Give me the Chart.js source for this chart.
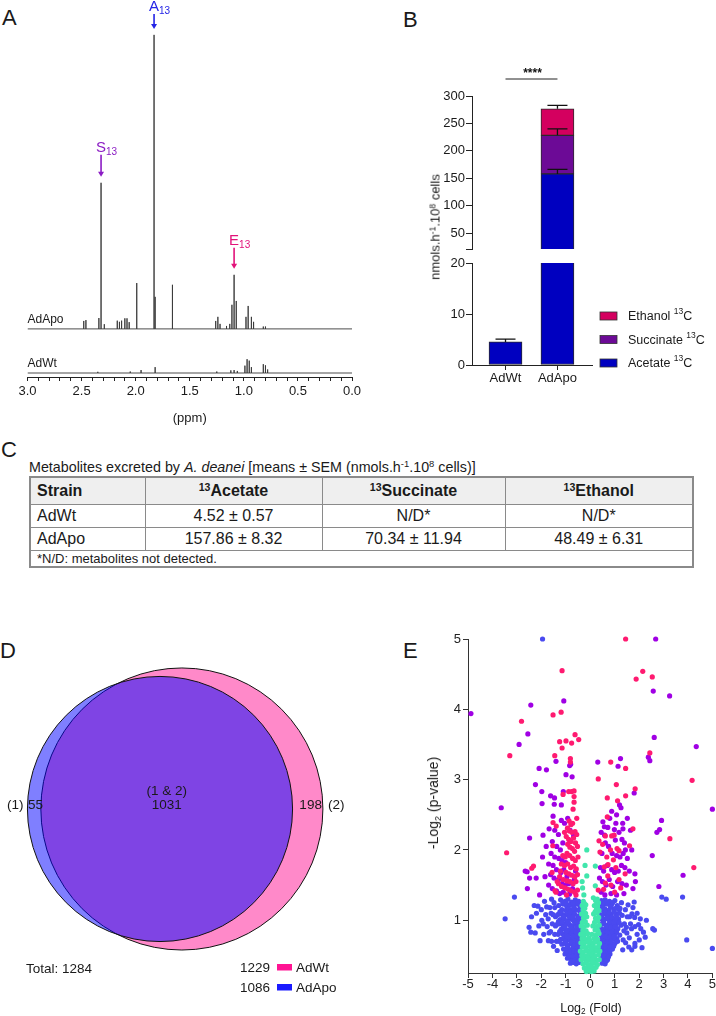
<!DOCTYPE html>
<html><head><meta charset="utf-8">
<script src="https://cdn.jsdelivr.net/npm/chart.js@4.4.0/dist/chart.umd.min.js"></script>
<style>
html,body{margin:0;padding:0;background:#fff;}
body{width:716px;height:1016px;position:relative;overflow:hidden;font-family:"Liberation Sans",Arial,Helvetica,sans-serif;color:#1a1a1a;}
canvas{position:absolute;}
.abs{position:absolute;white-space:nowrap;}
.panel{position:absolute;font-size:22px;line-height:22px;}
.rot{position:absolute;white-space:nowrap;transform:translate(-50%,-50%) rotate(-90deg);}
.ctr{position:absolute;white-space:nowrap;transform:translate(-50%,-50%);}
sup.s,sub.s{font-size:66%;vertical-align:baseline;position:relative;}
sup.s{top:-0.5em;} sub.s{top:0.3em;}
#tbl{position:absolute;left:29px;top:476px;width:663px;border-collapse:collapse;table-layout:fixed;border:2px solid #8a8a8a;}
#tbl td,#tbl th{border:1px solid #8a8a8a;padding:0 6px;font-size:16px;font-weight:normal;text-align:center;overflow:hidden;white-space:nowrap;}
#tbl th{font-weight:bold;background:#efefef;height:26px;}
#tbl td{height:22px;}
#tbl .l{text-align:left;}
#tbl td.foot{font-size:13px;height:15px;line-height:15px;}
</style></head>
<body>
<div class="panel" style="left:2px;top:7px">A</div>
<div class="panel" style="left:403px;top:9px">B</div>
<div class="panel" style="left:1px;top:439px">C</div>
<div class="panel" style="left:0px;top:640px">D</div>
<div class="panel" style="left:403px;top:640px">E</div>

<canvas id="cA" width="370" height="440" style="left:0;top:0"></canvas>
<canvas id="cB1" width="346" height="200" style="left:370px;top:60px"></canvas>
<canvas id="cB2" width="346" height="150" style="left:370px;top:250px"></canvas>
<div class="rot" style="left:435px;top:227px;font-size:13px">nmols.h<sup class="s">-1</sup>.10<sup class="s">8</sup> cells</div>

<div id="tblTitle" class="abs" style="left:29px;top:459px;font-size:14.3px;line-height:16px"></div>
<table id="tbl"></table>

<canvas id="cD" width="360" height="350" style="left:0;top:650px"></canvas>
<canvas id="cE" width="346" height="396" style="left:370px;top:620px"></canvas>
<div class="rot" style="left:433px;top:803px;font-size:14px">-Log<sub class="s">2</sub> (p-value)</div>
<div class="ctr" style="left:591px;top:1008px;font-size:12.5px">Log<sub class="s">2</sub> (Fold)</div>

<script>
// ---------------- DATA ----------------
// Panel A: 1H-NMR peaks (ppm, relative intensity)
const traceNames = ['AdApo', 'AdWt'];
const apoPeakPpm    = [2.48, 2.46, 2.34, 2.32, 2.29, 2.17, 2.15, 2.13, 2.10, 2.08, 2.06, 1.99, 1.83, 1.82, 1.66, 1.26, 1.24, 1.22, 1.16, 1.13, 1.11, 1.09, 1.07, 0.98, 0.96, 0.93, 0.91, 0.82, 0.80];
const apoPeakHeight = [2.7, 3.0, 3.7, 49.7, 1.6, 2.8, 2.4, 2.8, 3.6, 3.6, 2.3, 15.6, 100, 10.9, 15.0, 2.7, 4.1, 1.7, 1.0, 1.7, 8.2, 18.4, 9.5, 4.1, 7.8, 4.1, 2.4, 0.8, 0.8];
const wtPeakPpm     = [2.35, 2.05, 1.95, 1.82, 1.25, 1.12, 1.09, 1.06, 0.99, 0.97, 0.95, 0.93, 0.82, 0.80, 0.78];
const wtPeakHeight  = [0.4, 0.5, 1.0, 2.0, 0.5, 0.9, 1.0, 0.7, 2.5, 4.7, 4.2, 2.0, 3.0, 2.6, 1.2];
const peakTagLetters = ['S', 'A', 'E'];
const peakTagPpm     = [2.32, 1.83, 1.09];

// Panel B / C: metabolites (nmols.h-1.10^8 cells)
const strains = ['AdWt', 'AdApo'];
const metaboliteNames = ['Acetate', 'Succinate', 'Ethanol'];
const acetateMean   = [4.52, 157.86];
const acetateSem    = [0.57, 8.32];
const succinateMean = [null, 70.34];
const succinateSem  = [null, 11.94];
const ethanolMean   = [null, 48.49];
const ethanolSem    = [null, 6.31];
const significance  = '****';

// Panel D: Venn counts
const vennSets   = ['AdApo', 'AdWt'];
const vennOnly   = [55, 198];
const vennShared = 1031;

// Panel E: volcano plot points [log2 fold, -log2 p]
const ePink = [[1.45,5.0],[-1.15,4.55],[2.15,4.54],[1.88,4.43],[2.54,4.46],[-1.19,3.96],[-1.52,3.92],[-2.81,3.83],[-3.29,3.34],[-0.62,3.64],[-0.47,3.57],[-0.76,3.52],[-1.25,3.54],[-0.99,3.55],[-1.15,3.45],[-1.45,3.34],[-0.81,3.30],[-0.81,3.25],[0.84,3.25],[1.45,3.16],[0.33,3.01],[1.07,2.93],[4.17,2.99],[2.44,3.38],[1.84,2.87],[-0.88,2.83],[-0.76,2.83],[-0.66,2.84],[-1.11,2.79],[-0.66,2.76],[-0.66,2.68],[0.70,2.74],[1.12,2.70],[1.45,2.77],[-0.70,2.58],[-0.55,2.45],[0.70,2.47],[1.75,2.30],[-3.42,1.96],[3.26,2.16],[4.24,1.75],[1.61,2.06],[-1.52,2.39],[-1.39,2.34],[0.36,2.13],[0.51,2.08],[0.88,2.20],[1.18,1.99],[1.43,1.66],[-1.53,2.06],[-1.56,1.68],[-2.32,1.77],[-2.39,1.74],[-1.44,1.42],[0.33,1.43],[0.73,1.79],[0.40,1.97],
 [-0.86,2.41],[-0.79,2.36],[-0.72,2.38],[-0.93,2.31],[-0.85,2.27],[-0.75,2.25],[-0.62,2.26],[-0.55,2.22],[-1.05,2.25],[-0.98,2.19],[-0.88,2.15],[-0.78,2.12],[-0.68,2.17],[-0.60,2.10],[-0.92,2.08],[-0.83,2.04],[-0.73,2.02],[-0.64,1.98],[-0.52,2.05],[-1.12,1.92],[-1.02,1.90],[-0.95,1.95],[-0.84,1.92],[-0.72,1.88],[-0.61,1.85],[-0.50,1.90],[-1.18,1.80],[-1.05,1.78],[-0.92,1.80],[-0.80,1.75],[-0.68,1.77],[-0.57,1.73],[-1.22,1.70],[-0.99,1.68],[-0.87,1.66],[-0.75,1.64],[-0.63,1.62],[-0.52,1.65],[-1.10,1.58],[-0.95,1.56],[-0.83,1.55],[-0.70,1.52],[-0.58,1.55],[-1.30,1.52],[-1.17,1.48],[-1.03,1.46],[-0.90,1.44],[-0.78,1.42],[-0.64,1.40],[-0.52,1.43],[-1.40,1.40],[-0.97,1.36],[-0.58,1.36],[-1.25,1.62],[-1.35,1.55],
 [0.62,2.20],[0.98,2.21],[0.83,2.00],[1.10,2.02],[0.68,1.90],[0.95,1.86],[0.58,1.76],[1.05,1.75],[0.72,1.63],[1.18,1.58],[0.62,1.53],[0.85,1.50],[1.25,1.46],[0.55,1.44],[1.00,1.40]];
const ePurple = [[-4.88,3.94],[-2.43,4.06],[-1.08,4.12],[-2.55,3.65],[-2.91,3.50],[2.68,5.0],[2.58,4.26],[3.25,4.19],[2.62,3.60],[2.38,3.32],[2.44,3.27],[4.34,3.47],[0.31,3.25],[1.24,3.30],[1.14,3.19],[-2.09,3.16],[-1.79,3.14],[-1.40,3.26],[-0.84,3.20],[-0.80,3.22],[-0.99,3.07],[-0.74,3.04],[-2.24,2.93],[-1.98,2.83],[-1.62,2.77],[-1.46,2.74],[-1.97,2.66],[-1.47,2.65],[-1.18,2.64],[-1.10,2.83],[1.26,2.60],[1.20,2.64],[1.08,2.50],[1.80,2.81],[2.92,2.42],[2.84,2.29],[2.73,2.25],[-3.64,2.60],[5.0,2.58],[-2.48,2.17],[-1.93,2.21],[2.54,1.92],[3.80,1.64],[2.81,1.48],[-2.57,1.45],[-2.66,1.70],[-2.58,1.69],[-2.48,1.60],[-2.21,1.60],[-2.07,1.36],[1.83,1.66],[1.33,2.38],[1.34,2.30],[0.58,2.33],[0.59,2.21],[0.99,2.29],[1.03,2.14],[1.40,2.10],[1.44,2.00],
 [-1.18,2.42],[-1.05,2.38],[-0.92,2.45],[-0.82,2.28],[-0.68,2.20],[-1.45,2.28],[-1.30,2.22],[-1.55,2.12],[-1.37,2.05],[-1.22,2.00],[-1.12,2.10],[-1.60,1.95],[-1.45,1.90],[-1.28,1.88],[-1.15,1.85],[-1.00,1.82],[-1.70,1.80],[-1.52,1.78],[-1.38,1.72],[-1.20,1.68],[-1.08,1.72],[-0.95,1.62],[-1.62,1.65],[-1.48,1.60],[-1.30,1.58],[-1.15,1.52],[-1.02,1.50],[-0.88,1.52],[-1.70,1.50],[-1.55,1.45],[-1.38,1.42],[-1.25,1.38],[-1.10,1.40],[-0.85,1.37],[-0.72,1.45],[-0.65,1.58],[-0.60,1.70],[-1.85,1.62],[-1.95,1.90],[-1.80,2.05],[-1.68,2.30],[-1.52,2.48],
 [0.45,2.25],[0.52,2.40],[0.72,2.32],[0.80,2.45],[0.88,2.55],[1.05,2.38],[1.18,2.25],[1.30,2.15],[0.48,1.95],[0.62,2.10],[0.75,2.05],[0.90,1.95],[1.08,1.92],[1.22,1.90],[1.35,1.95],[1.52,1.88],[0.42,1.75],[0.55,1.70],[0.70,1.78],[0.88,1.72],[1.00,1.68],[1.15,1.70],[1.28,1.78],[1.42,1.75],[1.60,1.70],[0.50,1.55],[0.65,1.50],[0.78,1.58],[0.92,1.48],[1.12,1.55],[1.30,1.52],[1.48,1.50],[0.45,1.40],[0.60,1.36],[0.85,1.38],[1.08,1.36],[1.38,1.38],[1.75,1.45],[1.85,1.55],[1.70,2.00],[1.65,2.28],[1.52,2.45],[0.38,1.60]];
const eGreen = [[-0.14,2.0],[-0.21,1.78],[0.21,1.77],[-0.14,1.63],[0.21,1.49],[-0.31,1.46],[0.13,1.32],[-0.26,1.36],[-0.33,1.55],[0.29,1.30],
 [-0.28,1.27],[0.22,1.28],[0.34,1.25],[-0.33,1.21],[-0.18,1.22],[0.17,1.21],[0.30,1.20],[-0.29,1.15],[-0.22,1.17],[0.25,1.15],[0.36,1.14],
 [-0.35,1.09],[-0.19,1.10],[0.14,1.09],[0.28,1.10],[-0.27,1.03],[-0.14,1.05],[0.22,1.03],[0.35,1.04],[-0.32,0.97],[-0.20,0.98],[0.18,0.97],[0.30,0.99],
 [-0.37,0.92],[-0.25,0.91],[-0.12,0.93],[0.11,0.92],[0.26,0.91],[0.37,0.93],[-0.30,0.86],[-0.17,0.85],[0.20,0.86],[0.32,0.85],
 [-0.38,0.80],[-0.24,0.79],[-0.10,0.81],[0.07,0.80],[0.24,0.79],[0.36,0.81],[-0.33,0.74],[-0.20,0.73],[-0.05,0.75],[0.15,0.74],[0.30,0.73],
 [-0.38,0.68],[-0.26,0.67],[-0.12,0.69],[0.02,0.68],[0.12,0.67],[0.25,0.69],[0.38,0.67],[-0.32,0.62],[-0.18,0.61],[-0.05,0.63],[0.08,0.62],[0.20,0.61],[0.33,0.62],
 [-0.40,0.56],[-0.27,0.55],[-0.14,0.57],[0.00,0.56],[0.14,0.55],[0.27,0.57],[0.39,0.56],[-0.34,0.50],[-0.20,0.49],[-0.07,0.51],[0.07,0.50],[0.20,0.49],[0.34,0.51],
 [-0.37,0.44],[-0.26,0.45],[-0.13,0.43],[0.00,0.44],[0.13,0.45],[0.26,0.43],[0.37,0.44],[-0.30,0.38],[-0.18,0.39],[-0.06,0.37],[0.06,0.38],[0.18,0.39],[0.30,0.37],
 [-0.24,0.32],[-0.12,0.33],[0.00,0.31],[0.12,0.32],[0.24,0.33],[-0.16,0.27],[-0.05,0.28],[0.05,0.27],[0.16,0.28],
 [-0.24,1.24],[0.27,1.22],[-0.25,1.06],[0.20,1.12],[-0.29,0.83],[0.28,0.88],[-0.02,0.71],[0.05,0.59],[-0.10,0.47],[0.10,0.41],[-0.01,0.35],[0.09,0.30]];
const eBlue = [[-1.95,5.0],[-3.10,1.33],[-3.48,1.02],[-2.40,1.05],[-2.50,0.90],[-2.43,0.83],[-2.25,0.82],[-2.29,1.21],[-2.14,1.20],[-2.05,0.71],[-1.71,0.71],[-1.87,1.27],[-1.78,1.19],[-1.72,1.02],[-1.76,0.91],[-1.60,1.10],[-1.55,0.95],[-1.48,1.25],[-1.45,0.80],[-1.62,0.84],[-1.50,0.63],[-1.42,1.05],[-1.38,0.70],[-1.98,1.00],[-2.10,0.92],[-1.90,0.80],[-1.58,1.30],[-1.35,0.57],
 [-2.20,1.10],[-2.00,1.15],[-1.92,0.95],[-1.82,1.08],[-1.68,0.82],[-1.65,1.18],[-1.52,1.08],[-1.42,0.92],[-1.58,0.70],[-1.45,1.18],
 [-1.21,1.29],[-1.03,1.27],[-0.91,1.30],[-0.76,1.26],[-0.61,1.29],[-0.47,1.27],[-1.29,1.21],[-1.11,1.23],[-0.96,1.20],[-0.83,1.22],[-0.67,1.21],[-0.54,1.23],[-0.41,1.20],
 [-1.16,1.15],[-0.99,1.14],[-0.87,1.16],[-0.73,1.13],[-0.58,1.15],[-0.45,1.14],[-1.33,1.08],[-1.17,1.09],[-1.04,1.07],[-0.93,1.10],[-0.79,1.07],[-0.64,1.09],[-0.51,1.06],[-0.39,1.08],
 [-1.23,1.01],[-1.07,1.02],[-0.96,0.99],[-0.81,1.02],[-0.69,1.00],[-0.56,1.01],[-0.43,0.99],[-1.37,0.94],[-1.26,0.95],[-1.11,0.93],[-0.99,0.95],[-0.85,0.94],[-0.73,0.92],[-0.61,0.95],[-0.48,0.93],
 [-1.19,0.87],[-1.06,0.88],[-0.91,0.86],[-0.79,0.88],[-0.67,0.86],[-0.53,0.87],[-0.41,0.85],[-1.31,0.80],[-1.14,0.81],[-1.01,0.79],[-0.87,0.80],[-0.76,0.82],[-0.63,0.79],[-0.49,0.81],
 [-1.21,0.73],[-1.09,0.74],[-0.94,0.72],[-0.83,0.74],[-0.69,0.73],[-0.57,0.72],[-0.44,0.74],[-1.16,0.66],[-1.01,0.67],[-0.89,0.65],[-0.75,0.67],[-0.63,0.66],[-0.51,0.65],
 [-1.09,0.59],[-0.96,0.60],[-0.81,0.58],[-0.71,0.60],[-0.57,0.59],[-0.45,0.58],[-1.03,0.52],[-0.87,0.53],[-0.76,0.51],[-0.61,0.53],[-0.49,0.52],
 [-0.93,0.46],[-0.79,0.45],[-0.65,0.47],[-0.53,0.45],[-0.43,0.46],[-0.81,0.39],[-0.67,0.40],[-0.57,0.38],[-0.46,0.40],
 [-1.12,1.25],[-0.98,1.24],[-0.70,1.24],[-0.50,1.25],[-1.24,1.12],[-0.82,1.12],[-0.68,1.17],[-0.40,1.16],[-1.10,1.05],[-0.86,1.05],[-0.72,1.04],[-0.45,1.04],[-1.30,0.98],[-1.15,0.97],[-0.90,0.97],[-0.64,0.98],[-0.52,0.97],[-1.03,0.91],[-0.79,0.91],[-0.55,0.90],[-0.44,0.89],[-1.25,0.84],[-0.97,0.84],[-0.72,0.84],[-0.59,0.84],[-1.07,0.77],[-0.93,0.77],[-0.70,0.77],[-0.55,0.77],[-0.42,0.78],[-1.27,0.70],[-1.02,0.70],[-0.77,0.69],[-0.50,0.69],[-0.93,0.62],[-0.68,0.63],[-0.52,0.62],[-0.40,0.62],[-0.98,0.56],[-0.84,0.55],[-0.66,0.56],[-0.55,0.55],[-0.86,0.49],[-0.71,0.49],[-0.58,0.49],[-0.73,0.42],[-0.62,0.43],[-0.50,0.42],
 [0.46,1.28],[0.61,1.29],[0.79,1.27],[1.01,1.28],[0.38,1.22],[0.53,1.21],[0.69,1.23],[0.87,1.22],[1.11,1.21],[0.45,1.15],[0.61,1.16],[0.76,1.14],[0.96,1.16],[1.19,1.15],
 [0.41,1.08],[0.56,1.09],[0.71,1.07],[0.86,1.08],[1.06,1.09],[1.31,1.07],[0.49,1.01],[0.63,1.02],[0.79,1.00],[0.97,1.01],[1.16,1.02],
 [0.43,0.94],[0.56,0.95],[0.71,0.93],[0.89,0.94],[1.07,0.95],[1.26,0.93],[0.48,0.87],[0.63,0.88],[0.77,0.86],[0.96,0.87],[1.13,0.88],
 [0.41,0.80],[0.55,0.81],[0.71,0.79],[0.86,0.80],[1.03,0.81],[1.21,0.79],[0.47,0.73],[0.61,0.74],[0.76,0.72],[0.93,0.73],[1.09,0.74],
 [0.42,0.66],[0.56,0.67],[0.69,0.65],[0.86,0.66],[1.01,0.67],[0.46,0.59],[0.59,0.60],[0.73,0.58],[0.91,0.59],[0.41,0.52],[0.53,0.53],[0.66,0.51],[0.81,0.52],
 [0.45,0.45],[0.57,0.46],[0.71,0.44],[0.49,0.39],[0.61,0.38],
 [0.53,1.25],[0.70,1.26],[0.92,1.25],[0.50,1.18],[0.83,1.19],[1.05,1.17],[0.63,1.12],[0.78,1.11],[0.98,1.12],[1.20,1.10],[0.46,1.05],[0.70,1.04],[0.88,1.04],[1.08,1.05],[0.55,0.98],[0.80,0.97],[1.00,0.98],[1.18,0.97],[0.40,0.91],[0.66,0.91],[0.84,0.90],[1.02,0.91],[0.54,0.84],[0.70,0.83],[0.90,0.84],[1.08,0.84],[0.48,0.77],[0.64,0.77],[0.81,0.76],[0.98,0.77],[0.53,0.70],[0.70,0.69],[0.84,0.70],[1.12,0.70],[0.50,0.63],[0.64,0.63],[0.80,0.62],[0.96,0.63],[0.48,0.56],[0.65,0.55],[0.80,0.56],[0.46,0.49],[0.60,0.49],[0.75,0.48],[0.53,0.42],[0.66,0.42],
 [1.22,1.17],[1.44,1.15],[1.61,1.05],[1.71,1.09],[1.82,1.04],[1.98,0.94],[1.83,0.91],[1.69,0.88],[2.07,0.88],[2.18,0.83],[2.63,0.86],[2.56,0.88],[2.93,1.33],[3.11,1.30],[3.78,1.33],[3.95,0.72],[5.0,0.60],[2.12,0.61],[2.01,0.72],[1.83,0.67],[1.83,0.63],[1.33,0.58],[1.80,1.26],[1.40,0.95],[1.50,0.82],[1.35,0.72],[1.55,1.22],[1.28,1.25],[1.45,0.68],[1.60,0.75],[1.38,0.85],[2.30,1.00],
 [1.52,1.05],[1.65,0.95],[1.75,1.18],[1.92,1.10],[2.05,1.02],[1.58,0.62],[1.70,0.58],[1.48,0.90],[1.92,0.80],[2.25,0.76]];
const eXTicks = [-5,-4,-3,-2,-1,0,1,2,3,4,5];
const eYTicks = [1,2,3,4,5];

// ---------------- STYLE ----------------
const FONT = '"Liberation Sans", Arial, Helvetica, sans-serif';
Chart.defaults.font.family = FONT;
Chart.defaults.font.size = 13;
Chart.defaults.color = '#1a1a1a';
Chart.defaults.animation = false;
Chart.defaults.responsive = false;
Chart.defaults.events = [];
Chart.defaults.layout.autoPadding = false;
Chart.defaults.plugins.legend.display = false;
Chart.defaults.plugins.tooltip.enabled = false;

const apoOffset = 15;
const tagColors = {S:'#8b1cc4', A:'#2424e6', E:'#e2137a'};
const tagArrow = {S:22, A:15, E:21};
const metColors = ['#0000c0', '#6c0a96', '#d4005f'];
const vennFill = ['rgba(0,0,255,0.5)', 'rgba(255,20,147,0.5)'];
const vennKey = ['#1a1aff', '#ff1493'];
const eColors = {pink:'#ff1a70', purple:'#a000e4', green:'#40e6ac', blue:'#4a4af0'};

// ---------------- PANEL A ----------------
function traceData(ppm, h, off) {
  const pts = [{x:3, y:off}];
  ppm.forEach((p, i) => { pts.push({x:p, y:off}, {x:p, y:off + h[i]}, {x:p, y:off}); });
  pts.push({x:0, y:off});
  return pts;
}
const spectrumPlugin = {
  id: 'spectrumPlugin',
  afterDatasetsDraw(chart) {
    const {ctx, chartArea} = chart; const x = chart.scales.x, y = chart.scales.y;
    ctx.save();
    ctx.fillStyle = '#1a1a1a'; ctx.textAlign = 'left'; ctx.textBaseline = 'alphabetic';
    ctx.font = '12px ' + FONT;
    ctx.fillText(traceNames[0], chartArea.left, y.getPixelForValue(apoOffset) - 6);
    ctx.fillText(traceNames[1], chartArea.left, y.getPixelForValue(0) - 6);
    peakTagLetters.forEach((L, k) => {
      const idx = apoPeakPpm.indexOf(peakTagPpm[k]);
      const px = x.getPixelForValue(peakTagPpm[k]);
      const tip = y.getPixelForValue(apoOffset + apoPeakHeight[idx]) - 6;
      const start = tip - tagArrow[L];
      ctx.strokeStyle = tagColors[L]; ctx.fillStyle = tagColors[L]; ctx.lineWidth = 1.6;
      ctx.beginPath(); ctx.moveTo(px, start); ctx.lineTo(px, tip - 4); ctx.stroke();
      ctx.beginPath(); ctx.moveTo(px - 3, tip - 5); ctx.lineTo(px + 3, tip - 5); ctx.lineTo(px, tip); ctx.closePath(); ctx.fill();
      ctx.font = '15px ' + FONT; ctx.textAlign = 'center';
      ctx.fillText(L, px, start - 3);
      const w = ctx.measureText(L).width;
      ctx.font = '10px ' + FONT; ctx.textAlign = 'left';
      ctx.fillText('13', px + w / 2, start);
    });
    ctx.restore();
  }
};
new Chart(document.getElementById('cA'), {
  type: 'line',
  data: {datasets: [
    {label: traceNames[0], data: traceData(apoPeakPpm, apoPeakHeight, apoOffset), borderColor: '#383838', borderWidth: 0.9, pointRadius: 0, tension: 0},
    {label: traceNames[1], data: traceData(wtPeakPpm, wtPeakHeight, 0), borderColor: '#383838', borderWidth: 0.9, pointRadius: 0, tension: 0}
  ]},
  options: {
    layout: {padding: {left: 27.5, right: 18, top: 29, bottom: 0}},
    scales: {
      x: {type: 'linear', reverse: true, min: 0, max: 3,
        afterBuildTicks: s => { const t = []; for (let i = 0; i <= 30; i++) t.push({value: i / 10}); s.ticks = t; },
        afterFit: s => { s.height = 63; },
        ticks: {autoSkip: false, maxRotation: 0, padding: 4, font: {size: 13, lineHeight: 1}, color: '#1a1a1a',
          callback: v => Math.abs(v * 2 - Math.round(v * 2)) < 1e-6 ? (Math.round(v * 2) / 2).toFixed(1) : ''},
        grid: {drawOnChartArea: false, tickLength: 4, color: '#222'},
        border: {display: true, color: '#222', width: 1},
        title: {display: true, text: '(ppm)', font: {size: 13, lineHeight: 1}, padding: {top: 0, bottom: 15.5}, color: '#1a1a1a'}},
      y: {display: false, min: -1.36, max: 117}
    }
  },
  plugins: [spectrumPlugin]
});

// ---------------- PANEL B ----------------
const means = [acetateMean, succinateMean, ethanolMean];
const sems = [acetateSem, succinateSem, ethanolSem];
function barDatasets() {
  return metaboliteNames.map((n, i) => ({
    label: n, data: strains.map((s, j) => ({x: j, y: means[i][j]})),
    backgroundColor: metColors[i], borderColor: '#2a2a2a', borderWidth: 1, borderSkipped: false, barThickness: 33
  }));
}
const errorBarPlugin = {
  id: 'errorBars',
  afterDatasetsDraw(chart) {
    const {ctx, chartArea} = chart; const x = chart.scales.x, y = chart.scales.y;
    ctx.save();
    ctx.beginPath(); ctx.rect(chartArea.left, chartArea.top - 2, chartArea.right - chartArea.left, chartArea.bottom - chartArea.top + 2); ctx.clip();
    ctx.strokeStyle = '#111'; ctx.lineWidth = 1.3;
    strains.forEach((s, j) => {
      let cum = 0;
      means.forEach((m, i) => {
        if (m[j] == null) return;
        cum += m[j];
        const px = x.getPixelForValue(j), y0 = y.getPixelForValue(cum), y1 = y.getPixelForValue(cum + sems[i][j]);
        ctx.beginPath(); ctx.moveTo(px, y0); ctx.lineTo(px, y1);
        ctx.moveTo(px - 10, y1); ctx.lineTo(px + 10, y1); ctx.stroke();
      });
    });
    ctx.restore();
  }
};
const sigPlugin = {
  id: 'sig',
  afterDraw(chart) {
    const {ctx, chartArea} = chart; const x = chart.scales.x;
    const x0 = x.getPixelForValue(0), x1 = x.getPixelForValue(1), yl = chartArea.top - 17;
    ctx.save(); ctx.strokeStyle = '#222'; ctx.lineWidth = 1;
    ctx.beginPath(); ctx.moveTo(x0, yl); ctx.lineTo(x1, yl); ctx.stroke();
    ctx.fillStyle = '#111'; ctx.font = 'bold 12px ' + FONT; ctx.textAlign = 'center'; ctx.textBaseline = 'alphabetic';
    ctx.fillText(significance, (x0 + x1) / 2 + 1, yl - 2);
    ctx.restore();
  }
};
const barLegendPlugin = {
  id: 'barLegend',
  afterDraw(chart) {
    const {ctx} = chart;
    ctx.save();
    const rows = [2, 1, 0];
    rows.forEach((i, r) => {
      const cy = 66 + r * 23.5;
      ctx.fillStyle = metColors[i]; ctx.fillRect(230, cy - 4, 17, 8);
      ctx.strokeStyle = '#333'; ctx.lineWidth = 0.8; ctx.strokeRect(230, cy - 4, 17, 8);
      ctx.fillStyle = '#1a1a1a'; ctx.textAlign = 'left'; ctx.textBaseline = 'middle';
      ctx.font = '12.5px ' + FONT;
      const t = metaboliteNames[i] + ' ';
      ctx.fillText(t, 258, cy + 1);
      let w = ctx.measureText(t).width;
      ctx.font = '8.5px ' + FONT; ctx.fillText('13', 258 + w, cy - 4);
      const w2 = ctx.measureText('13').width;
      ctx.font = '12.5px ' + FONT; ctx.fillText('C', 258 + w + w2, cy + 1);
    });
    ctx.restore();
  }
};
const bX = {type: 'linear', min: -0.645, max: 1.665, stacked: true, offset: false, bounds: 'data', grace: 0};
new Chart(document.getElementById('cB1'), {
  type: 'bar',
  data: {datasets: barDatasets()},
  options: {
    layout: {padding: {left: 0, right: 124, top: 36, bottom: 11}},
    scales: {
      x: Object.assign({}, bX, {display: false, grid: {offset: false}}),
      y: {stacked: true, min: 21, max: 300,
        afterBuildTicks: s => { s.ticks = [21, 50, 100, 150, 200, 250, 300].map(v => ({value: v})); },
        afterFit: s => { s.width = 102; },
        ticks: {padding: 1, font: {size: 13, lineHeight: 1}, color: '#1a1a1a', callback: v => v === 21 ? '' : String(v)},
        grid: {drawOnChartArea: false, tickLength: 6, color: '#222'},
        border: {display: true, color: '#222', width: 1}}
    }
  },
  plugins: [errorBarPlugin, sigPlugin]
});
new Chart(document.getElementById('cB2'), {
  type: 'bar',
  data: {datasets: barDatasets()},
  options: {
    layout: {padding: {left: 0, right: 124, top: 13, bottom: 0}},
    scales: {
      x: Object.assign({}, bX, {
        afterBuildTicks: s => { s.ticks = strains.map((n, j) => ({value: j})); },
        afterFit: s => { s.height = 35; },
        ticks: {padding: 1.5, font: {size: 13, lineHeight: 1}, color: '#1a1a1a', autoSkip: false, maxRotation: 0, callback: v => strains[v]},
        grid: {offset: false, drawOnChartArea: false, tickLength: 5, color: '#222'},
        border: {display: true, color: '#222', width: 1}}),
      y: {stacked: true, min: 0, max: 20,
        afterBuildTicks: s => { s.ticks = [0, 10, 20].map(v => ({value: v})); },
        afterFit: s => { s.width = 102; },
        ticks: {padding: 1, font: {size: 13, lineHeight: 1}, color: '#1a1a1a'},
        grid: {drawOnChartArea: false, tickLength: 6, color: '#222'},
        border: {display: true, color: '#222', width: 1}}
    }
  },
  plugins: [errorBarPlugin, barLegendPlugin]
});

// ---------------- PANEL C (table) ----------------
(function () {
  const tbl = document.getElementById('tbl');
  const title = document.getElementById('tblTitle');
  title.innerHTML = 'Metabolites excreted by <i>A. deanei</i> [means ± SEM (nmols.h<sup class="s">-1</sup>.10<sup class="s">8</sup> cells)]';
  const widths = [115, 177, 183, 188];
  let html = '<colgroup>' + widths.map(w => '<col style="width:' + w + 'px">').join('') + '</colgroup>';
  html += '<tr><th class="l">Strain</th>' + metaboliteNames.map(n => '<th><sup class="s">13</sup>' + n + '</th>').join('') + '</tr>';
  strains.forEach((s, j) => {
    html += '<tr><td class="l">' + s + '</td>' + means.map((m, i) => '<td>' + (m[j] == null ? 'N/D*' : m[j].toFixed(2) + ' ± ' + sems[i][j].toFixed(2)) + '</td>').join('') + '</tr>';
  });
  html += '<tr><td class="l foot" colspan="4">*N/D: metabolites not detected.</td></tr>';
  tbl.innerHTML = html;
})();

// ---------------- PANEL D (Venn) ----------------
const vennSizes = vennOnly.map(v => v + vennShared);
const vennR = vennSizes.map(s => Math.sqrt(s / Math.PI));
function overlapArea(d, r1, r2) {
  if (d >= r1 + r2) return 0;
  if (d <= Math.abs(r1 - r2)) return Math.PI * Math.min(r1, r2) ** 2;
  const a = r1 * r1 * Math.acos((d * d + r1 * r1 - r2 * r2) / (2 * d * r1));
  const b = r2 * r2 * Math.acos((d * d + r2 * r2 - r1 * r1) / (2 * d * r2));
  const c = 0.5 * Math.sqrt((-d + r1 + r2) * (d + r1 - r2) * (d - r1 + r2) * (d + r1 + r2));
  return a + b - c;
}
let lo = Math.abs(vennR[0] - vennR[1]), hi = vennR[0] + vennR[1];
for (let i = 0; i < 60; i++) { const mid = (lo + hi) / 2; if (overlapArea(mid, vennR[0], vennR[1]) > vennShared) lo = mid; else hi = mid; }
const vennDist = (lo + hi) / 2;
const vennXMin = -22.44, vennXMax = 28.05, vennCanvasW = 360;
const vennPx = vennCanvasW / (vennXMax - vennXMin);
const vennLabelPlugin = {
  id: 'vennLabels',
  afterDatasetsDraw(chart) {
    const {ctx} = chart; const x = chart.scales.x, y = chart.scales.y;
    const bx = x.getPixelForValue(0), px = x.getPixelForValue(vennDist), cy = y.getPixelForValue(0);
    const rb = vennR[0] * vennPx, rp = vennR[1] * vennPx;
    ctx.save();
    ctx.fillStyle = '#1a1a1a'; ctx.textBaseline = 'alphabetic'; ctx.font = '13.5px ' + FONT;
    const mid = ((px - rp) + (bx + rb)) / 2;
    ctx.textAlign = 'center';
    ctx.fillText('(1 & 2)', mid, cy - 14);
    ctx.fillText(String(vennShared), mid, cy);
    ctx.textAlign = 'left'; ctx.fillText(String(vennOnly[0]), bx - rb + 0.5, cy);
    ctx.textAlign = 'right'; ctx.fillText('(1)', bx - rb - 4, cy);
    ctx.textAlign = 'right'; ctx.fillText(String(vennOnly[1]), px + rp - 1, cy);
    ctx.textAlign = 'left'; ctx.fillText('(2)', px + rp + 5, cy);
    ctx.textAlign = 'left';
    ctx.fillText('Total: ' + (vennOnly[0] + vennOnly[1] + vennShared), 26, 323);
    [1, 0].forEach((i, r) => {
      const by = 322 + r * 20;
      ctx.textAlign = 'right'; ctx.fillStyle = '#1a1a1a'; ctx.fillText(String(vennSizes[i]), 270, by);
      ctx.fillStyle = vennKey[i]; ctx.fillRect(277, by - 8, 15, 6.5);
      ctx.fillStyle = '#1a1a1a'; ctx.textAlign = 'left'; ctx.fillText(vennSets[i], 296, by);
    });
    ctx.restore();
  }
};
new Chart(document.getElementById('cD'), {
  type: 'bubble',
  data: {datasets: vennSets.map((s, i) => ({
    label: s, data: [{x: i === 0 ? 0 : vennDist, y: 0, r: vennR[i] * vennPx}],
    backgroundColor: vennFill[i], borderColor: '#111', borderWidth: 1, hoverRadius: 0, clip: false
  }))},
  options: {
    layout: {padding: 0, autoPadding: false},
    scales: {x: {display: false, min: vennXMin, max: vennXMax}, y: {display: false, min: -26.79, max: 22.30}}
  },
  plugins: [vennLabelPlugin]
});

// ---------------- PANEL E (volcano) ----------------
const toPts = arr => arr.map(p => ({x: p[0], y: p[1]}));
new Chart(document.getElementById('cE'), {
  type: 'scatter',
  data: {datasets: [
    {label: 'pink', data: toPts(ePink), backgroundColor: eColors.pink},
    {label: 'purple', data: toPts(ePurple), backgroundColor: eColors.purple},
    {label: 'green', data: toPts(eGreen), backgroundColor: eColors.green},
    {label: 'blue', data: toPts(eBlue), backgroundColor: eColors.blue}
  ].map(d => Object.assign(d, {pointRadius: 2.6, borderWidth: 0, clip: false}))},
  options: {
    layout: {padding: {left: 0, right: 3, top: 19, bottom: 0}, autoPadding: false},
    scales: {
      x: {type: 'linear', min: -5, max: 5,
        afterBuildTicks: s => { s.ticks = eXTicks.map(v => ({value: v})); },
        afterFit: s => { s.height = 43; },
        ticks: {padding: 0, font: {size: 13, lineHeight: 1}, color: '#222', autoSkip: false, maxRotation: 0},
        grid: {drawOnChartArea: false, tickLength: 5, color: '#333'},
        border: {display: true, color: '#333', width: 1}},
      y: {min: 0.25, max: 5,
        afterBuildTicks: s => { s.ticks = eYTicks.map(v => ({value: v})); },
        afterFit: s => { s.width = 98; },
        ticks: {padding: 2, font: {size: 13, lineHeight: 1}, color: '#222'},
        grid: {drawOnChartArea: false, tickLength: 5, color: '#333'},
        border: {display: true, color: '#333', width: 1}}
    }
  }
});
</script>
</body></html>
